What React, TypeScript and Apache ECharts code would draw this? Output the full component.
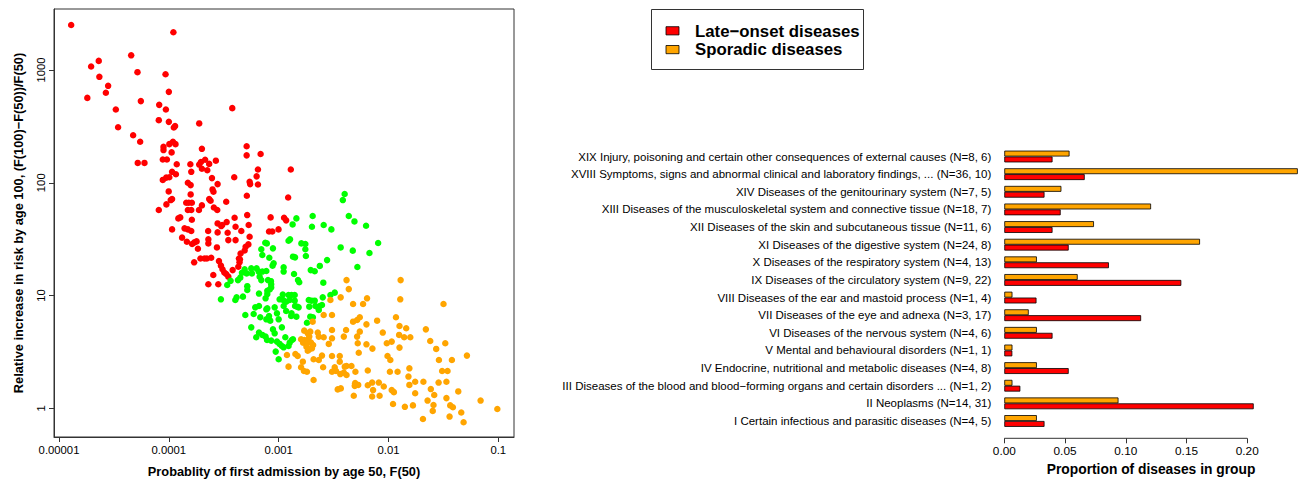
import React, { useEffect, useRef } from "react";
import * as echarts from "echarts";

// ---------- Left panel: F(50) vs relative increase in risk ----------
const lateOnsetPoints: [number, number][] = [
  [1.29e-5, 2510], [1.10e-4, 2160], [4.54e-5, 1350], [2.30e-5, 1205], [1.96e-5, 1074], [5.18e-5, 957], [9.33e-5, 918], [2.33e-5, 870],
  [2.80e-5, 724], [2.67e-5, 628], [1.81e-5, 566], [1.0e-4, 640], [5.56e-5, 530], [8.17e-5, 491], [9.4e-5, 447], [3.29e-5, 447],
  [3.78e-4, 459], [8.1e-5, 359], [1.0e-4, 347], [1.89e-4, 336], [3.45e-5, 311], [1.11e-4, 309], [1.14e-4, 318], [4.73e-5, 264],
  [5.48e-5, 231], [8.94e-5, 208], [8.94e-5, 195], [1.09e-4, 231], [1.01e-4, 220], [1.15e-4, 220], [2.0e-4, 200], [1.06e-4, 186],
  [5.11e-4, 211], [5.11e-4, 175], [6.85e-4, 180], [5.21e-5, 150], [6.0e-5, 150], [8.81e-5, 161], [9.6e-5, 161], [1.18e-4, 146],
  [1.57e-4, 146], [1.89e-4, 145], [1.96e-4, 153], [2.14e-4, 160], [2.24e-4, 129], [2.33e-4, 147], [2.68e-4, 157], [2.0e-4, 133],
  [1.07e-4, 125], [1.16e-4, 119], [1.60e-4, 125], [8.81e-5, 106], [9.46e-5, 111], [1.01e-4, 112], [1.49e-4, 100], [1.58e-4, 95.3],
  [2.47e-4, 110], [2.78e-4, 97.3], [3.94e-4, 112], [6.48e-4, 131], [6.30e-4, 114], [6.48e-4, 96.6], [5.44e-4, 102], [5.5e-4, 97.3],
  [1.29e-3, 131], [5.13e-4, 76.7], [9.97e-5, 83.8], [1.58e-4, 78.8], [2.50e-4, 87.3], [2.55e-4, 83.2], [1.07e-4, 71.6], [1.04e-4, 70.2],
  [1.44e-4, 66.5], [1.52e-4, 66.5], [1.62e-4, 66.5], [8.1e-5, 57.3], [9.5e-5, 64.3], [2.0e-4, 63.0], [2.33e-4, 71.6], [2.40e-4, 69.2],
  [3.33e-4, 67.9], [1.22e-3, 74.1], [1.88e-4, 57.3], [1.49e-4, 57.3], [1.60e-4, 57.3], [2.76e-4, 57.3], [2.57e-4, 60.4], [1.27e-4, 49.3],
  [1.22e-4, 48.3], [1.62e-4, 47.0], [3.06e-4, 42.2], [3.36e-4, 44.8], [2.78e-4, 43.6], [3.0e-4, 41.3], [5.17e-4, 51.7], [3.97e-4, 49.0],
  [4.05e-4, 40.7], [4.57e-4, 37.3], [5.33e-4, 42.2], [1.07e-4, 38.6], [1.39e-4, 39.4], [1.49e-4, 38.6], [1.60e-4, 37.3], [2.28e-4, 37.3],
  [1.32e-4, 32.6], [1.46e-4, 30.0], [2.29e-4, 31.5], [2.29e-4, 29.0], [2.78e-4, 36.3], [3.43e-4, 36.0], [3.48e-4, 31.0], [4.05e-4, 31.0],
  [5.44e-4, 33.2], [1.71e-4, 29.6], [1.63e-4, 28.6], [1.79e-4, 30.2], [2.74e-4, 26.7], [5.3e-4, 28.4], [1.84e-4, 26.0], [1.94e-4, 21.3],
  [2.11e-4, 21.3], [2.22e-4, 21.3], [2.43e-4, 21.6], [1.70e-4, 19.7], [2.86e-4, 20.2], [4.5e-4, 23.6], [4.9e-4, 25.1], [5.0e-4, 27.1],
  [4.35e-4, 21.3], [4.44e-4, 20.9], [9.97e-4, 38.6], [8.45e-4, 49.3], [1.12e-3, 49.0], [1.17e-3, 46.4], [8.17e-4, 37.0], [8.75e-4, 37.0],
  [2.98e-4, 18.4], [3.08e-4, 17.1], [3.2e-4, 16.0], [3.33e-4, 15.5], [3.48e-4, 14.7], [2.54e-4, 15.2], [2.29e-4, 12.6], [2.82e-4, 12.6],
  [3.81e-4, 16.8], [4.29e-4, 18.0], [4.4e-4, 19.7],
];

const intermediatePoints: [number, number][] = [
  [3.99e-3, 79.4], [3.84e-3, 70.2], [2.04e-3, 50.7], [1.45e-3, 48.3], [1.34e-3, 42.7], [2.01e-3, 40.7], [2.57e-3, 42.2], [3.02e-3, 38.6],
  [4.35e-3, 50.7], [4.9e-3, 45.4], [6.25e-3, 41.6], [8.05e-3, 29.2], [6.71e-3, 23.8], [4.73e-3, 25.0], [5.21e-3, 17.9], [3.67e-3, 26.7],
  [7.55e-4, 29.4], [7.8e-4, 29.0], [8.87e-4, 26.2], [6.95e-4, 25.7], [7.1e-4, 22.9], [8.22e-4, 21.6], [9.0e-4, 19.3], [8.8e-4, 18.4],
  [1.27e-3, 31.5], [1.23e-3, 30.6], [1.61e-3, 29.0], [1.75e-3, 28.6], [1.75e-3, 25.7], [1.35e-3, 22.1], [1.41e-3, 21.8], [1.77e-3, 22.4],
  [2.76e-3, 20.6], [2.37e-3, 18.3], [1.96e-3, 16.8], [2.13e-3, 16.4], [1.11e-3, 17.8], [1.11e-3, 16.3], [1.38e-3, 15.5], [1.50e-3, 13.7],
  [1.54e-3, 13.1], [2.55e-3, 13.0], [5.63e-4, 17.4], [5.71e-4, 15.7], [6.3e-4, 17.4], [6.58e-4, 16.3], [7.1e-4, 16.3], [7.72e-4, 16.5],
  [4.9e-4, 17.1], [5.11e-4, 15.7], [6.71e-4, 14.7], [6.95e-4, 13.7], [8.0e-4, 13.7], [8.51e-4, 13.4], [8.55e-4, 12.6], [3.65e-4, 13.5],
  [4.26e-4, 13.7], [4.47e-4, 14.4], [4.63e-4, 15.9], [3.4e-4, 12.4], [5.18e-4, 12.1], [5.18e-4, 11.2], [6.62e-4, 10.4], [7.88e-4, 11.0],
  [8.28e-4, 11.3], [7.88e-4, 10.3], [7.6e-4, 9.44], [8.55e-4, 11.8], [4.14e-4, 9.63], [4.03e-4, 9.12], [4.73e-4, 9.77], [1.09e-3, 10.2],
  [1.10e-3, 9.12], [1.23e-3, 10.1], [1.31e-3, 10.1], [1.40e-3, 10.1], [1.17e-3, 8.81], [1.26e-3, 9.12], [1.40e-3, 9.0], [1.02e-3, 9.25],
  [1.88e-3, 9.12], [1.99e-3, 9.0], [2.13e-3, 9.0], [2.52e-3, 9.63], [2.96e-3, 10.1], [3.24e-3, 10.6], [2.37e-3, 8.07], [1.9e-3, 7.96],
  [2.28e-3, 7.85], [1.41e-3, 8.07], [1.47e-3, 7.96], [1.11e-3, 8.07], [9.2e-4, 7.85], [7.88e-4, 7.69], [6.12e-4, 7.85], [2.98e-4, 9.25],
  [6.62e-4, 8.07], [7.72e-4, 7.54], [1.17e-3, 7.29], [1.31e-3, 6.95], [1.52e-3, 7.85], [2.16e-3, 8.07], [2.32e-3, 7.43], [2.48e-3, 8.24],
  [4.97e-4, 6.71], [5.92e-4, 6.85], [6.8e-4, 6.41], [7.72e-4, 6.15], [8.17e-4, 6.58], [8.38e-4, 5.98], [9.65e-4, 6.95], [1.0e-3, 6.15],
  [1.30e-3, 6.58], [1.45e-3, 6.49], [1.94e-3, 6.49], [2.05e-3, 6.41], [1.81e-3, 5.74], [5.63e-4, 5.22], [6.62e-4, 4.69], [7.1e-4, 4.47],
  [6.25e-4, 4.26], [7.6e-4, 4.32], [7.84e-4, 4.03], [8.87e-4, 5.01], [9.2e-4, 4.62], [1.07e-3, 5.22], [8.55e-4, 3.98], [9.65e-4, 3.90],
  [1.02e-3, 3.72], [1.07e-3, 3.57], [1.11e-3, 3.47], [1.15e-3, 4.26], [1.26e-3, 3.82], [1.32e-3, 4.03], [1.35e-3, 4.09], [1.23e-3, 3.57],
  [9.4e-4, 3.18], [1.0e-3, 2.72],
];

const sporadicPoints: [number, number][] = [
  [1.71e-3, 4.88], [1.84e-3, 4.62], [1.94e-3, 4.78], [1.60e-3, 4.09], [1.71e-3, 4.03], [1.86e-3, 4.09], [1.67e-3, 3.82], [1.81e-3, 3.77],
  [1.97e-3, 3.82], [1.79e-3, 3.52], [1.90e-3, 3.33], [2.01e-3, 3.40], [1.84e-3, 3.24], [2.06e-3, 3.64], [1.90e-3, 4.32], [2.27e-3, 4.69],
  [2.32e-3, 4.32], [2.57e-3, 4.26], [3.06e-3, 4.94], [4.11e-3, 4.94], [3.92e-3, 4.32], [2.86e-3, 3.72], [3.06e-3, 4.17], [5.18e-3, 4.32],
  [5.48e-3, 4.78], [5.25e-3, 3.77], [5.36e-3, 3.11], [1.19e-3, 2.97], [1.42e-3, 3.03], [1.49e-3, 2.91], [1.66e-3, 2.59], [1.23e-3, 2.34],
  [1.60e-3, 2.31], [1.70e-3, 2.14], [1.81e-3, 2.11], [2.08e-3, 2.72], [2.32e-3, 2.68], [2.54e-3, 2.31], [3.06e-3, 2.91], [3.6e-3, 2.91],
  [3.6e-3, 2.59], [3.24e-3, 2.31], [3.33e-3, 2.14], [3.06e-3, 2.11], [4.0e-3, 2.34], [4.15e-3, 2.37], [4.6e-3, 2.37], [3.64e-3, 2.01],
  [4.15e-3, 1.97], [5.0e-3, 2.11], [2.08e-3, 1.78], [3.45e-3, 1.47], [3.68e-3, 1.50], [4.93e-3, 1.58], [4.83e-3, 1.29], [4.15e-3, 13.7],
  [4.35e-3, 11.4], [1.29e-2, 13.7], [1.28e-2, 9.25], [3.17e-2, 8.41], [2.96e-3, 9.12], [3.67e-3, 9.63], [4.76e-3, 8.41], [5.87e-3, 8.41],
  [6.38e-3, 9.44], [2.57e-3, 6.71], [3.06e-3, 6.71], [2.04e-3, 5.86], [4.76e-3, 5.86], [5.18e-3, 6.07], [5.48e-3, 6.41], [7.88e-3, 5.98],
  [1.17e-2, 6.41], [6.3e-3, 5.55], [1.26e-2, 5.37], [1.45e-2, 5.12], [2.19e-2, 5.01], [8.87e-3, 4.69], [1.25e-2, 4.47], [1.39e-2, 4.26],
  [1.58e-2, 4.26], [9.65e-3, 3.77], [1.07e-2, 3.90], [6.3e-3, 3.69], [7.14e-3, 3.38], [1.26e-2, 3.45], [2.40e-2, 3.95], [3.29e-2, 3.77],
  [2.72e-2, 3.36], [2.48e-3, 2.93], [9.8e-3, 2.91], [1.04e-2, 2.68], [2.88e-2, 2.68], [3.78e-2, 2.68], [5.18e-2, 2.93], [3.92e-3, 2.07],
  [6.48e-3, 2.16], [1.03e-2, 2.11], [1.21e-2, 2.11], [1.55e-2, 2.26], [1.52e-2, 1.91], [1.55e-2, 1.61], [1.75e-2, 1.72], [2.08e-2, 1.72],
  [3.08e-2, 2.14], [3.45e-2, 2.14], [3.37e-2, 1.72], [2.86e-2, 1.69], [4.97e-3, 1.67], [5.3e-3, 1.61], [6.48e-3, 1.60], [7.1e-3, 1.69],
  [8.17e-3, 1.69], [9.06e-3, 1.56], [7.24e-3, 1.45], [1.07e-2, 1.45], [1.12e-2, 1.39], [7.1e-3, 1.27], [8.3e-3, 1.29], [1.75e-2, 1.36],
  [2.43e-2, 1.48], [2.61e-2, 1.31], [4.32e-2, 1.41], [1.1e-2, 1.09], [1.41e-2, 1.03], [1.67e-2, 1.06], [2.27e-2, 1.17], [2.57e-2, 1.07],
  [3.37e-2, 1.23], [3.65e-2, 1.06], [3.86e-2, 1.02], [6.9e-2, 1.17], [4.6e-2, 0.916], [2.53e-2, 0.947], [3.6e-2, 0.844], [2.06e-2, 0.804],
  [4.83e-2, 0.751], [9.8e-2, 0.986],
];

// ---------- Right panel: proportion of diseases per ICD chapter (bottom to top) ----------
const diseaseGroups = [
  "I Certain infectious and parasitic diseases (N=4, 5)",
  "II Neoplasms (N=14, 31)",
  "III Diseases of the blood and blood\u2212forming organs and certain disorders ... (N=1, 2)",
  "IV Endocrine, nutritional and metabolic diseases (N=4, 8)",
  "V Mental and behavioural disorders (N=1, 1)",
  "VI Diseases of the nervous system (N=4, 6)",
  "VII Diseases of the eye and adnexa (N=3, 17)",
  "VIII Diseases of the ear and mastoid process (N=1, 4)",
  "IX Diseases of the circulatory system (N=9, 22)",
  "X Diseases of the respiratory system (N=4, 13)",
  "XI Diseases of the digestive system (N=24, 8)",
  "XII Diseases of the skin and subcutaneous tissue (N=11, 6)",
  "XIII Diseases of the musculoskeletal system and connective tissue (N=18, 7)",
  "XIV Diseases of the genitourinary system (N=7, 5)",
  "XVIII Symptoms, signs and abnormal clinical and laboratory findings, ... (N=36, 10)",
  "XIX Injury, poisoning and certain other consequences of external causes (N=8, 6)",
];
const sporadicShare = [0.0268, 0.094, 0.0067, 0.0268, 0.0067, 0.0268, 0.0201, 0.0067, 0.0604, 0.0268, 0.1611, 0.0738, 0.1208, 0.047, 0.2416, 0.0537];
const lateOnsetShare = [0.0331, 0.2053, 0.0132, 0.053, 0.0066, 0.0397, 0.1126, 0.0265, 0.1457, 0.0861, 0.053, 0.0397, 0.0464, 0.0331, 0.0662, 0.0397];
const proportionTicks = [0, 0.05, 0.1, 0.15, 0.2];

const legendLabels = ["Late\u2212onset diseases", "Sporadic diseases"];

const RED = "#FF0000";
const GREEN = "#00FF00";
const ORANGE = "#FFA500";
const FONT = "'Liberation Sans', Arial, Helvetica, sans-serif";

function fmtLog(v: number): string {
  if (v >= 1) return String(Math.round(v));
  const d = Math.round(-Math.log10(v));
  return v.toFixed(d);
}

export default function App() {
  const ref = useRef<HTMLDivElement>(null);
  useEffect(() => {
    if (!ref.current) return;
    const chart = echarts.init(ref.current, null, { renderer: "svg" });
    const barGridBottom = 53.2;
    const barAxisOffset = 8.5;
    const option: any = {
      animation: false,
      backgroundColor: "#ffffff",
      textStyle: { fontFamily: FONT, color: "#000" },
      grid: [
        { left: 54, top: 9, width: 460, height: 428, show: true, borderColor: "#333", borderWidth: 1, backgroundColor: "transparent" },
        { left: 1004.3, top: 147.7, width: 293.5, bottom: barGridBottom },
      ],
      xAxis: [
        {
          gridIndex: 0,
          type: "log",
          logBase: 10,
          min: 9.0e-6,
          max: 0.139,
          axisLine: { show: true, lineStyle: { color: "#333", width: 1 } },
          axisTick: { show: true, length: 5, lineStyle: { color: "#333" } },
          axisLabel: { color: "#000", fontSize: 11.3, margin: 7, showMinLabel: false, showMaxLabel: false, formatter: fmtLog, fontFamily: FONT },
          splitLine: { show: false },
          name: "Probablity of first admission by age 50, F(50)",
          nameLocation: "middle",
          nameGap: 28,
          nameTextStyle: { fontWeight: "bold", fontSize: 12.8, color: "#000", fontFamily: FONT },
        },
        {
          gridIndex: 1,
          type: "value",
          min: 0,
          max: 0.2416,
          offset: barAxisOffset,
          axisLine: { show: false },
          axisTick: { show: true, length: 5, customValues: proportionTicks, lineStyle: { color: "#333" } },
          axisLabel: { color: "#000", fontSize: 11.8, margin: 7, customValues: proportionTicks, formatter: (v: number) => v.toFixed(2), fontFamily: FONT },
          splitLine: { show: false },
          name: "Proportion of diseases in group",
          nameLocation: "middle",
          nameGap: 24,
          nameTextStyle: { fontWeight: "bold", fontSize: 13.8, color: "#000", fontFamily: FONT },
        },
      ],
      yAxis: [
        {
          gridIndex: 0,
          type: "log",
          logBase: 10,
          min: 0.556,
          max: 3477,
          axisLine: { show: true, lineStyle: { color: "#333", width: 1 } },
          axisTick: { show: true, length: 5, lineStyle: { color: "#333" } },
          axisLabel: { color: "#000", fontSize: 11.3, margin: 8, rotate: 90, showMinLabel: false, showMaxLabel: false, formatter: fmtLog, fontFamily: FONT },
          splitLine: { show: false },
          name: "Relative increase in risk by age 100, (F(100)\u2212F(50))/F(50)",
          nameLocation: "middle",
          nameGap: 29,
          nameRotate: 90,
          nameTextStyle: { fontWeight: "bold", fontSize: 12.8, color: "#000", fontFamily: FONT },
        },
        {
          gridIndex: 1,
          type: "category",
          data: diseaseGroups,
          axisLine: { show: false },
          axisTick: { show: false },
          axisLabel: { color: "#000", fontSize: 11.5, margin: 13, fontFamily: FONT },
        },
      ],
      series: [
        { type: "scatter", name: "late", xAxisIndex: 0, yAxisIndex: 0, data: lateOnsetPoints, symbol: "circle", symbolSize: 6.5, itemStyle: { color: RED, opacity: 1 } },
        { type: "scatter", name: "intermediate", xAxisIndex: 0, yAxisIndex: 0, data: intermediatePoints, symbol: "circle", symbolSize: 6.5, itemStyle: { color: GREEN, opacity: 1 } },
        { type: "scatter", name: "sporadic", xAxisIndex: 0, yAxisIndex: 0, data: sporadicPoints, symbol: "circle", symbolSize: 6.5, itemStyle: { color: ORANGE, opacity: 1 } },
        {
          type: "bar", name: legendLabels[1], xAxisIndex: 1, yAxisIndex: 1, data: sporadicShare,
          barWidth: 5.88, barGap: "0%", itemStyle: { color: ORANGE, borderColor: "#000", borderWidth: 0.8 },
        },
        {
          type: "bar", name: legendLabels[0], xAxisIndex: 1, yAxisIndex: 1, data: lateOnsetShare,
          barWidth: 5.88, barGap: "0%", itemStyle: { color: RED, borderColor: "#000", borderWidth: 0.8 },
        },
      ],
    };
    chart.setOption(option);

    const x0 = chart.convertToPixel({ xAxisIndex: 1 }, 0) as number;
    const x1 = chart.convertToPixel({ xAxisIndex: 1 }, proportionTicks[proportionTicks.length - 1]) as number;
    const axisY = 483 - barGridBottom + barAxisOffset;

    chart.setOption({
      graphic: [
        { type: "line", shape: { x1: x0, y1: axisY, x2: x1, y2: axisY }, style: { stroke: "#333", lineWidth: 1 }, silent: true },
        { type: "rect", shape: { x: 651.5, y: 9.5, width: 212, height: 60 }, style: { fill: "#fff", stroke: "#333", lineWidth: 1 } },
        { type: "rect", shape: { x: 666, y: 26.7, width: 13, height: 8.2 }, style: { fill: RED, stroke: "#000", lineWidth: 0.8 } },
        { type: "rect", shape: { x: 666, y: 45.5, width: 13, height: 8.2 }, style: { fill: ORANGE, stroke: "#000", lineWidth: 0.8 } },
        { type: "text", x: 695, y: 31, style: { text: legendLabels[0], fill: "#000", font: `bold 16.8px ${FONT}`, textVerticalAlign: "middle", verticalAlign: "middle" } },
        { type: "text", x: 695, y: 49.8, style: { text: legendLabels[1], fill: "#000", font: `bold 16.8px ${FONT}`, textVerticalAlign: "middle", verticalAlign: "middle" } },
      ],
    });

    return () => chart.dispose();
  }, []);
  return <div ref={ref} style={{ position: "fixed", left: 0, top: 0, width: 1303, height: 483, background: "#fff" }} />;
}
